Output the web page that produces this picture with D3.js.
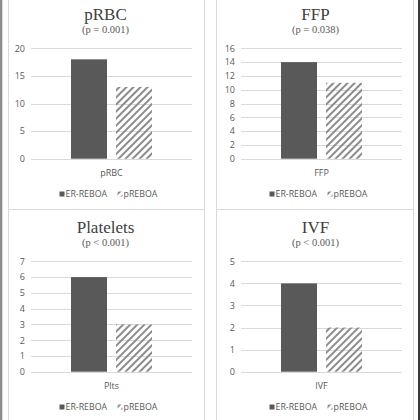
<!DOCTYPE html>
<html>
<head>
<meta charset="utf-8">
<script src="https://cdn.jsdelivr.net/npm/d3@7"></script>
<style>
  body { margin: 0; background: #fff; }
  svg { display: block; }
</style>
</head>
<body>
<div id="chart"></div>
<script>
// chart values
const titles = ["pRBC", "FFP", "Platelets", "IVF"];
const subtitles = ["(p = 0.001)", "(p = 0.038)", "(p < 0.001)", "(p < 0.001)"];
const categories = ["pRBC", "FFP", "Plts", "IVF"];
const seriesNames = ["ER-REBOA", "pREBOA"];
const erReboa = [18, 14, 6, 4];
const pReboa = [13, 11, 3, 2];
const yMax = [20, 16, 7, 5];
const yStep = [5, 2, 1, 1];

const width = 420, height = 420;
const textColor = "#595959";

const svg = d3.select("#chart").append("svg")
    .attr("width", width)
    .attr("height", height)
    .attr("viewBox", [0, 0, width, height]);

// hatch pattern for pREBOA
svg.append("defs").append("pattern")
    .attr("id", "hatch")
    .attr("patternUnits", "userSpaceOnUse")
    .attr("width", 5)
    .attr("height", 5)
    .attr("patternTransform", "rotate(45)")
  .append("rect")
    .attr("width", 2)
    .attr("height", 5)
    .attr("fill", "#8c8c8c");

// outer frame bits
svg.append("rect").attr("x", 0).attr("y", 0).attr("width", 2.3).attr("height", height).attr("fill", "#8c8c8c");
svg.append("rect").attr("x", 418).attr("y", 0).attr("width", 2).attr("height", height).attr("fill", "#3a3a3a");

// panel boxes
const boxes = [[8, -1, 196, 210], [216, -1, 197, 210], [8, 209, 196, 212], [216, 209, 197, 212]];
svg.append("g").selectAll("rect")
  .data(boxes)
  .join("rect")
    .attr("x", d => d[0] + 0.5)
    .attr("y", d => d[1] + 0.5)
    .attr("width", d => d[2])
    .attr("height", d => d[3])
    .attr("fill", "none")
    .attr("stroke", "#d9d9d9");

const origins = [[0, 0], [210, 0], [0, 213], [210, 213]];
const plotLeft = 31, plotRight = 192, plotTop = 48.3, plotBottom = 158.7;

titles.forEach((t, i) => {
  const [ox, oy] = origins[i];
  const g = svg.append("g").attr("transform", `translate(${ox},${oy})`);

  const x0 = d3.scaleBand().domain([categories[i]]).range([plotLeft, plotRight]).padding(0.3306);
  const x1 = d3.scaleBand().domain(seriesNames).range([0, x0.bandwidth()]).paddingInner(0.2);
  const y = d3.scaleLinear().domain([0, yMax[i]]).range([plotBottom, plotTop]);
  const cx = (plotLeft + plotRight) / 2;

  // titles
  g.append("text")
      .attr("x", cx - 6)
      .attr("y", 20)
      .attr("text-anchor", "middle")
      .attr("font-family", "Liberation Serif, serif")
      .attr("font-size", 17)
      .attr("fill", "#404040")
      .text(t);
  g.append("text")
      .attr("x", cx - 6)
      .attr("y", 32.5)
      .attr("text-anchor", "middle")
      .attr("font-family", "Liberation Serif, serif")
      .attr("font-size", 10.5)
      .attr("fill", "#595959")
      .text(subtitles[i]);

  // y axis with gridlines
  const ticks = d3.range(0, yMax[i] + 0.001, yStep[i]);
  const yAxis = d3.axisLeft(y).tickValues(ticks).tickFormat(d3.format("d")).tickSize(0).tickPadding(0);
  g.append("g")
      .attr("transform", `translate(25,0)`)
      .call(yAxis)
      .call(a => a.select(".domain").remove())
      .call(a => a.selectAll(".tick text")
          .attr("fill", textColor)
          .attr("font-family", "Open Sans, sans-serif")
          .attr("font-size", 9));
  g.append("g").selectAll("line")
    .data(ticks)
    .join("line")
      .attr("x1", plotLeft)
      .attr("x2", plotRight)
      .attr("y1", d => Math.round(y(d)) + 0.5)
      .attr("y2", d => Math.round(y(d)) + 0.5)
      .attr("stroke", "#d9d9d9");

  // bars
  const vals = [erReboa[i], pReboa[i]];
  g.append("g").selectAll("rect")
    .data(seriesNames)
    .join("rect")
      .attr("x", s => x0(categories[i]) + x1(s))
      .attr("width", x1.bandwidth())
      .attr("y", (s, j) => y(vals[j]))
      .attr("height", (s, j) => y(0) - y(vals[j]))
      .attr("fill", (s, j) => j === 0 ? "#595959" : "url(#hatch)");

  // category axis
  const xAxis = d3.axisBottom(x0).tickSize(0).tickPadding(0);
  g.append("g")
      .attr("transform", `translate(0,170)`)
      .call(xAxis)
      .call(a => a.select(".domain").remove())
      .call(a => a.selectAll(".tick text")
          .attr("fill", textColor)
          .attr("font-family", "Open Sans, sans-serif")
          .attr("font-size", 9));

  // legend
  const lg = g.append("g").attr("transform", `translate(${cx - 52},194)`);
  const lx = [0, 58];
  seriesNames.forEach((s, j) => {
    lg.append("rect")
        .attr("x", lx[j])
        .attr("y", -2.5)
        .attr("width", 5)
        .attr("height", 5)
        .attr("fill", j === 0 ? "#595959" : "url(#hatch)");
    lg.append("text")
        .attr("x", lx[j] + 6)
        .attr("y", 3.2)
        .attr("fill", textColor)
        .attr("font-family", "Open Sans, sans-serif")
        .attr("font-size", 8.8)
        .text(s);
  });
});
</script>
</body>
</html>
